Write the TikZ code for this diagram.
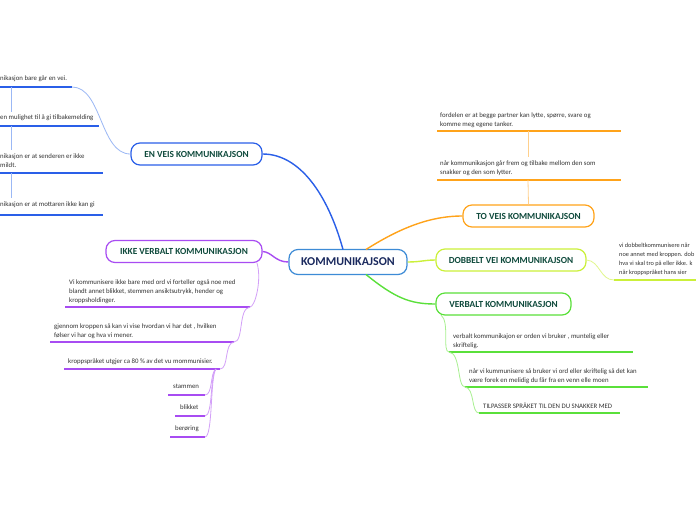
\documentclass[tikz,border=0pt]{standalone}
\usepackage{fontspec}
\setmainfont{Carlito}
\definecolor{hdrtxt}{HTML}{0F4A3C}
\definecolor{cenarrow}{HTML}{1B2A5E}
\definecolor{txtgray}{HTML}{333333}
\definecolor{cblue}{HTML}{3D8BD6}
\definecolor{eblue}{HTML}{2A5FE8}
\definecolor{lblue}{HTML}{9BB8F5}
\definecolor{cpurp}{HTML}{A84CF2}
\definecolor{lpurp}{HTML}{D3A0F8}
\definecolor{corng}{HTML}{FFA31A}
\definecolor{lorng}{HTML}{FFD08C}
\definecolor{cyel}{HTML}{CBF03A}
\definecolor{lyel}{HTML}{E2F78E}
\definecolor{cgrn}{HTML}{5AE03A}
\definecolor{lgrn}{HTML}{A8F090}
\tikzset{
  hdr/.style={draw, rounded corners=9pt, line width=1.2pt, fill=white,
    font=\bfseries\fontsize{9.3}{10}\selectfont, text=hdrtxt, minimum height=22pt, inner sep=1pt},
  txt/.style={anchor=north west, inner sep=0pt, align=left,
    font=\fontsize{6.8}{9}\selectfont, text=txtgray},
  uline/.style={line width=1.5pt},
  main/.style={line width=1.4pt},
  sub/.style={line width=0.8pt},
}
\begin{document}
\begin{tikzpicture}[x=1pt,y=-1pt]
\useasboundingbox (0,0) rectangle (696,520);
\fill[white] (0,0) rectangle (696,520);

% ---------- headers ----------
\node[hdr, draw=cblue, minimum width=118pt, minimum height=25pt, text=cenarrow,
  font=\bfseries\fontsize{12}{13}\selectfont] (kom) at (348,262) {KOMMUNIKAJSON};
\node[hdr, draw=eblue, minimum width=131pt] (en) at (196.5,154) {EN VEIS KOMMUNIKAJSON};
\node[hdr, draw=cpurp, minimum width=156pt] (ikke) at (184,251.5) {IKKE VERBALT KOMMUNIKASJON};
\node[hdr, draw=corng, minimum width=131pt] (to) at (528.5,216) {TO VEIS KOMMUNIKAJSON};
\node[hdr, draw=cyel, minimum width=150pt] (dob) at (511,260) {DOBBELT VEI KOMMUNIKAJSON};
\node[hdr, draw=cgrn, minimum width=135pt] (verb) at (503.5,304) {VERBALT KOMMUNIKASJON};

% ---------- main connectors ----------
\coordinate (kN1) at (343,249.5);
\coordinate (kN2) at (366,249.5);
\coordinate (kS2) at (366,274.5);
\draw[main, eblue] (kN1) .. controls (328,195) and (300,154) .. (en.east);
\draw[main, corng] (kN2) .. controls (400,228) and (430,216) .. (to.west);
\draw[main, cyel] (kom.east) .. controls (420,262) and (425,260) .. (dob.west);
\draw[main, cgrn] (kS2) .. controls (395,298) and (410,304) .. (verb.west);
\draw[main, cpurp] (kom.west) .. controls (275,262) and (272,252) .. (ikke.east);

% ---------- EN VEIS children ----------
\node[txt] (e1) at (0,75.5) {nikasjon bare går en vei.};
\node[txt] (e2) at (0,114.5) {en mulighet til å gi tilbakemelding};
\node[txt] (e3) at (0,153.5) {nikasjon er at senderen er ikke\\mildt.};
\node[txt] (e4) at (0,201.5) {nikasjon er at mottaren ikke kan gi};
\coordinate (e1a) at (0,87);   \coordinate (e1b) at (72,87);
\coordinate (e2a) at (0,126);  \coordinate (e2b) at (99,126);
\coordinate (e3a) at (0,173);  \coordinate (e3b) at (103,173);
\coordinate (e4a) at (0,215);  \coordinate (e4b) at (103,215);
\draw[uline, eblue] (e1a) -- (e1b);
\draw[uline, eblue] (e2a) -- (e2b);
\draw[uline, eblue] (e3a) -- (e3b);
\draw[uline, eblue] (e4a) -- (e4b);
\draw[sub, lblue] (en.west) .. controls (100,154) and (102,87) .. (e1b);
\coordinate (v1a) at (11,87);  \coordinate (v1b) at (11,112);
\coordinate (v2a) at (11,126); \coordinate (v2b) at (11,150);
\coordinate (v3a) at (11,173); \coordinate (v3b) at (11,198);
\draw[sub, lblue] (v1a) -- (v1b);
\draw[sub, lblue] (v2a) -- (v2b);
\draw[sub, lblue] (v3a) -- (v3b);

% ---------- IKKE VERBALT children ----------
\node[txt] (i1) at (69,279.5) {Vi kommunisere ikke bare med ord vi forteller også noe med\\blandt annet blikket, stemmen ansiktsutrykk, hender og\\kroppsholdinger.};
\node[txt] (i2) at (54,323.5) {gjennom kroppen så kan vi vise hvordan vi har det , hvilken\\følser vi har og hva vi mener.};
\node[txt] (i3) at (68,358.5) {kroppspråket utgjer ca 80 \% av det vu mommunisier.};
\node[txt] (i4) at (173,383.5) {stammen};
\node[txt] (i5) at (180,404.5) {blikket};
\node[txt] (i6) at (175,425.5) {berøring};
\coordinate (i1a) at (65,307);  \coordinate (i1b) at (250,307);
\coordinate (i2a) at (50,342);  \coordinate (i2b) at (234,342);
\coordinate (i3a) at (64,369);  \coordinate (i3b) at (220,369);
\coordinate (i4a) at (168,395); \coordinate (i4b) at (205,395);
\coordinate (i5a) at (175,416); \coordinate (i5b) at (205,416);
\coordinate (i6a) at (170,437); \coordinate (i6b) at (205,437);
\foreach \n in {1,...,6} {\draw[uline, cpurp] (i\n a) -- (i\n b);}
\coordinate (ikS) at (257,263);
\draw[sub, lpurp] (ikS) .. controls (262,280) and (255,307) .. (i1b);
\draw[sub, lpurp] (i1b) .. controls (238,308) and (244,342) .. (i2b);
\draw[sub, lpurp] (i2b) .. controls (224,343) and (229,369) .. (i3b);
\coordinate (i3c) at (216,369);
\draw[sub, lpurp] (i3c) .. controls (210,372) and (213,395) .. (i4b);
\draw[sub, lpurp] (i3c) .. controls (210,374) and (213,416) .. (i5b);
\draw[sub, lpurp] (i3c) .. controls (210,376) and (213,437) .. (i6b);

% ---------- TO VEIS children ----------
\node[txt] (t2) at (440,112.5) {fordelen er at begge partner kan lytte, spørre, svare og\\komme meg egene tanker.};
\node[txt] (t1) at (440,160.5) {når kommunikasjon går frem og tilbake mellom den som\\snakker og den som lytter.};
\coordinate (t2a) at (437,131); \coordinate (t2b) at (621,131);
\coordinate (t1a) at (437,180); \coordinate (t1b) at (621,180);
\draw[uline, corng] (t2a) -- (t2b);
\draw[uline, corng] (t1a) -- (t1b);
\coordinate (tv1) at (528,180); \coordinate (tv2) at (528,131); \coordinate (tv3) at (528,157);
\draw[sub, lorng] (tv1) -- (to.north);
\draw[sub, lorng] (tv2) -- (tv3);

% ---------- DOBBELT child ----------
\node[txt, font=\fontsize{6.3}{9}\selectfont] (d1) at (619,242.5) {vi dobbeltkommunisere når\\noe annet med kroppen. dob\\hva vi skal tro på eller ikke. k\\når kroppspråket hans sier};
\coordinate (d1a) at (614,280); \coordinate (d1b) at (700,280);
\draw[uline, cyel] (d1a) -- (d1b);
\draw[sub, lyel] (dob.east) .. controls (600,261) and (600,280) .. (d1a);

% ---------- VERBALT children ----------
\node[txt] (w1) at (453,333.5) {verbalt kommunikajon er orden vi bruker , muntelig eller\\skriftelig.};
\node[txt] (w2) at (469,368.5) {når vi kummunisere så bruker vi ord eller skriftelig så det kan\\være forek en melidig du får fra en venn elle moen};
\node[txt] (w3) at (483,402.5) {TILPASSER SPRÅKET TIL DEN DU SNAKKER MED};
\coordinate (w1a) at (449,352); \coordinate (w1b) at (633,352);
\coordinate (w2a) at (465,387); \coordinate (w2b) at (648,387);
\coordinate (w3a) at (479,413); \coordinate (w3b) at (620,413);
\draw[uline, cgrn] (w1a) -- (w1b);
\draw[uline, cgrn] (w2a) -- (w2b);
\draw[uline, cgrn] (w3a) -- (w3b);
\coordinate (vbS) at (441,315);
\draw[sub, lgrn] (vbS) .. controls (450,322) and (442,352) .. (w1a);
\draw[sub, lgrn] (w1a) .. controls (461,353) and (457,387) .. (w2a);
\draw[sub, lgrn] (w2a) .. controls (475,388) and (471,413) .. (w3a);
\end{tikzpicture}
\end{document}
